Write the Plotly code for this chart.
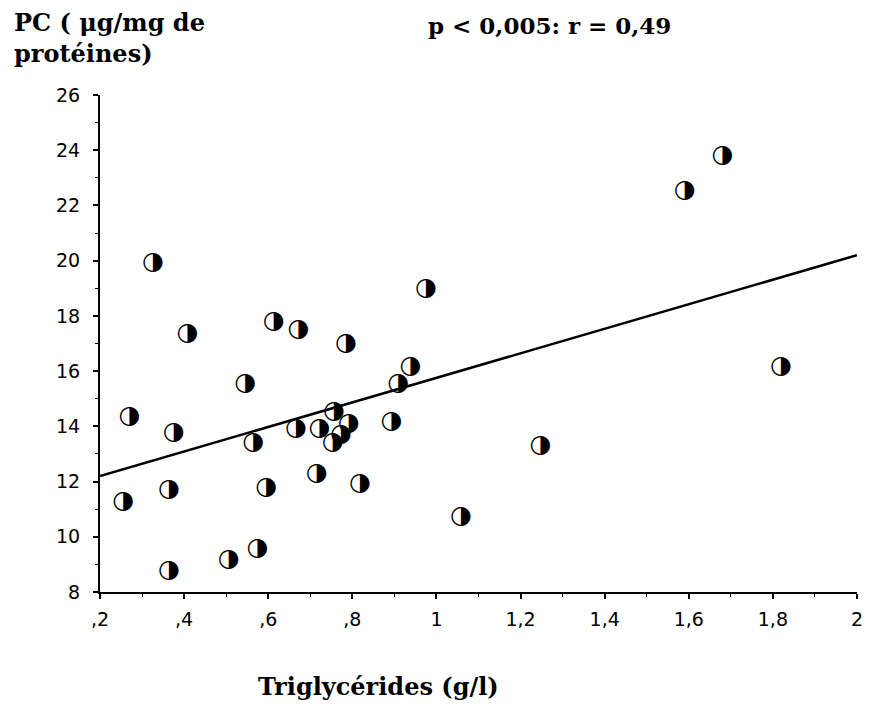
import plotly.graph_objects as go

# Data
triglycerides = [0.255, 0.270, 0.326, 0.364, 0.364, 0.375, 0.408, 0.506, 0.545, 0.564,
                 0.574, 0.595, 0.613, 0.666, 0.672, 0.715, 0.722, 0.753, 0.756, 0.773,
                 0.785, 0.791, 0.818, 0.893, 0.909, 0.938, 0.975, 1.058, 1.247, 1.590,
                 1.680, 1.819]
pc_values = [11.27, 14.35, 19.94, 8.76, 11.70, 13.76, 17.37, 9.18, 15.53, 13.39,
             9.55, 11.79, 17.79, 13.90, 17.49, 12.30, 13.90, 13.39, 14.53, 13.69,
             16.99, 14.11, 11.91, 14.17, 15.55, 16.15, 18.97, 10.73, 13.29, 22.53,
             23.80, 16.16]

fit_x = [0.2, 2.0]
fit_y = [12.2, 20.2]

x_tick_vals = [0.2, 0.4, 0.6, 0.8, 1.0, 1.2, 1.4, 1.6, 1.8, 2.0]
x_tick_text = [",2", ",4", ",6", ",8", "1", "1,2", "1,4", "1,6", "1,8", "2"]
y_tick_vals = [8, 10, 12, 14, 16, 18, 20, 22, 24, 26]
y_tick_text = ["8", "10", "12", "14", "16", "18", "20", "22", "24", "26"]

fig = go.Figure()

fig.add_trace(go.Scatter(
    x=fit_x, y=fit_y, mode="lines",
    line=dict(color="black", width=2.5),
    hoverinfo="skip", showlegend=False,
))

fig.add_trace(go.Scatter(
    x=triglycerides, y=pc_values, mode="text",
    text=["◑"] * len(triglycerides),
    textposition="middle center",
    textfont=dict(family="DejaVu Sans", size=25, color="black"),
    cliponaxis=False, showlegend=False,
))

axis_font = dict(family="DejaVu Sans", size=19, color="black")
serif = "DejaVu Serif"

fig.update_layout(
    width=869, height=710,
    margin=dict(l=100, r=12, t=95, b=118),
    paper_bgcolor="white", plot_bgcolor="white",
    showlegend=False,
    xaxis=dict(
        range=[0.2, 2.0], tickmode="array", tickvals=x_tick_vals, ticktext=x_tick_text,
        showline=True, linecolor="black", linewidth=2, mirror=False,
        ticks="outside", ticklen=5, tickwidth=2, tickcolor="black",
        minor=dict(ticks="outside", ticklen=3, tickwidth=1, tickcolor="black", dtick=0.1, tick0=0.2),
        showgrid=False, zeroline=False, tickfont=axis_font, ticklabelstandoff=4,
        automargin=False, ticklabeloverflow="allow",
    ),
    yaxis=dict(
        range=[8, 26], tickmode="array", tickvals=y_tick_vals, ticktext=y_tick_text,
        showline=True, linecolor="black", linewidth=2, mirror=False,
        ticks="outside", ticklen=5, tickwidth=2, tickcolor="black",
        minor=dict(ticks="outside", ticklen=3, tickwidth=1, tickcolor="black", dtick=1, tick0=8),
        showgrid=False, zeroline=False, tickfont=axis_font, ticklabelstandoff=9,
        automargin=False,
    ),
    annotations=[
        dict(text="<b>PC ( μg/mg de<br>protéines)</b>", xref="paper", yref="paper",
             x=-0.116, y=1.18, xanchor="left", yanchor="top", align="left", showarrow=False,
             font=dict(family=serif, size=24, color="black")),
        dict(text="<b>p &lt; 0,005: r = 0,49</b>", xref="paper", yref="paper",
             x=0.43, y=1.14, xanchor="left", yanchor="middle", showarrow=False,
             font=dict(family=serif, size=23, color="black")),
        dict(text="<b>Triglycérides (g/l)</b>", xref="paper", yref="paper",
             x=0.368, y=-0.19, xanchor="center", yanchor="middle", showarrow=False,
             font=dict(family=serif, size=24, color="black")),
    ],
)

# remove the browser's default page margin so the figure fills the window exactly
fig.write_html(
    "out.html",
    config={"displayModeBar": False},
    post_script="document.body.style.margin='0';document.body.style.overflow='hidden';",
)
